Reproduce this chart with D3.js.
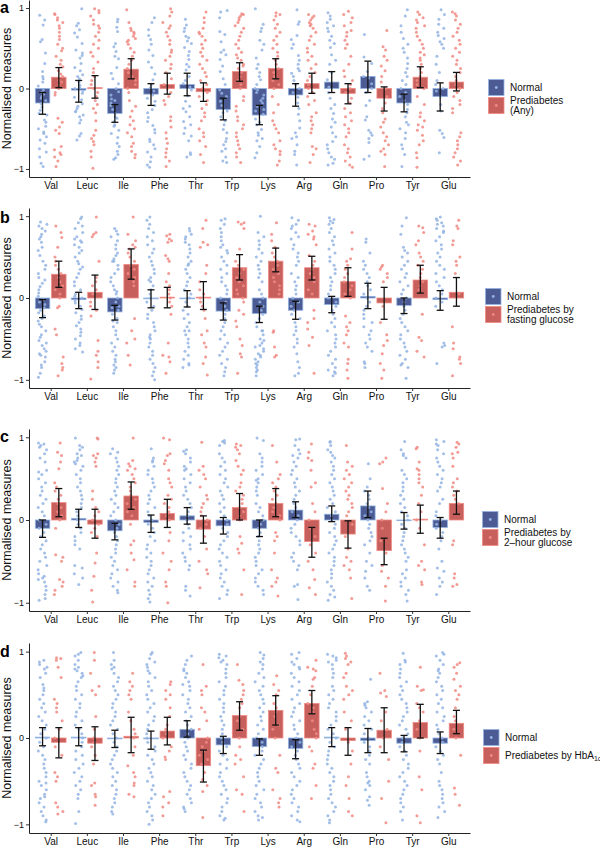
<!DOCTYPE html>
<html><head><meta charset="utf-8">
<script src="https://cdnjs.cloudflare.com/ajax/libs/d3/7.8.5/d3.min.js"></script>
<style>body{margin:0;background:#fff}svg{display:block;font-family:"Liberation Sans",Arial,sans-serif}</style>
</head><body>
<script>
const categories = ["Val","Leuc","Ile","Phe","Thr","Trp","Lys","Arg","Gln","Pro","Tyr","Glu"];
const panelLetters = ["a","b","c","d"];
const yTicks = [-1, 0, 1];
const yTitle = "Normalised measures";
const legendNormal = "Normal";
const legendPred = [["Prediabetes","(Any)"],["Prediabetes by","fasting glucose"],["Prediabetes by","2\u2013hour glucose"],["Prediabetes by HbA"]];

// ---- panel a: Normal vs Prediabetes (Any)
const aNormalMean = [-0.18,-0.02,-0.31,-0.07,0.05,-0.26,-0.33,-0.08,0.08,0.15,-0.18,-0.10];
const aNormalLo   = [-0.32,-0.17,-0.42,-0.21,-0.09,-0.39,-0.45,-0.22,-0.05,-0.05,-0.29,-0.28];
const aNormalHi   = [-0.05,0.10,-0.20,0.06,0.19,-0.12,-0.21,0.06,0.21,0.34,-0.07,0.07];
const aPredMean   = [0.14,0.01,0.24,0.05,-0.04,0.21,0.25,0.06,-0.06,-0.12,0.14,0.08];
const aPredLo     = [0.01,-0.12,0.12,-0.07,-0.16,0.09,0.12,-0.06,-0.19,-0.28,0.01,-0.03];
const aPredHi     = [0.26,0.16,0.37,0.19,0.07,0.32,0.37,0.19,0.06,0.02,0.27,0.20];
// ---- panel b: fasting glucose
const bNormalMean = [-0.13,-0.02,-0.17,-0.01,-0.01,-0.16,-0.19,-0.15,-0.08,0.02,-0.09,-0.02];
const bNormalLo   = [-0.24,-0.13,-0.27,-0.12,-0.11,-0.27,-0.30,-0.26,-0.18,-0.13,-0.19,-0.15];
const bNormalHi   = [-0.02,0.07,-0.09,0.10,0.09,-0.06,-0.10,-0.04,0.02,0.18,0.00,0.09];
const bPredMean   = [0.29,0.07,0.41,0.01,0.01,0.37,0.45,0.37,0.20,-0.06,0.22,0.07];
const bPredLo     = [0.13,-0.14,0.23,-0.12,-0.14,0.22,0.32,0.22,0.02,-0.26,0.06,-0.10];
const bPredHi     = [0.45,0.28,0.60,0.13,0.20,0.53,0.61,0.51,0.37,0.13,0.40,0.25];
// ---- panel c: 2-hour glucose
const cNormalMean = [-0.10,0.02,-0.13,-0.03,0.05,-0.07,-0.10,0.12,0.07,0.17,0.00,-0.09];
const cNormalLo   = [-0.21,-0.09,-0.24,-0.15,-0.05,-0.17,-0.20,0.03,-0.02,0.03,-0.11,-0.22];
const cNormalHi   = [0.00,0.13,-0.04,0.06,0.15,0.03,0.00,0.22,0.17,0.35,0.09,0.03];
const cPredMean   = [0.21,-0.05,0.29,0.08,-0.11,0.15,0.20,-0.26,-0.17,-0.37,0.01,0.20];
const cPredLo     = [0.04,-0.22,0.13,-0.09,-0.28,0.00,0.04,-0.45,-0.34,-0.54,-0.16,0.07];
const cPredHi     = [0.38,0.13,0.46,0.25,0.05,0.32,0.38,-0.09,-0.01,-0.22,0.18,0.35];
// ---- panel d: HbA1c
const dNormalMean = [0.01,0.01,-0.01,-0.01,0.10,-0.08,-0.10,-0.12,0.01,-0.03,-0.06,-0.06];
const dNormalLo   = [-0.09,-0.09,-0.11,-0.13,0.01,-0.18,-0.20,-0.24,-0.10,-0.17,-0.16,-0.18];
const dNormalHi   = [0.12,0.12,0.09,0.08,0.20,0.02,-0.01,-0.02,0.12,0.11,0.03,0.07];
const dPredMean   = [-0.05,-0.06,0.02,0.08,-0.32,0.26,0.32,0.40,-0.03,0.09,0.18,0.17];
const dPredLo     = [-0.23,-0.26,-0.17,-0.08,-0.51,0.09,0.15,0.28,-0.20,-0.17,0.00,0.05];
const dPredHi     = [0.12,0.13,0.24,0.24,-0.14,0.42,0.49,0.55,0.12,0.35,0.39,0.32];

// individual measures (hundredths), one list per amino acid
const aNormalPts = [
[91,85,79,61,58,44,31,21,15,8,3,-2,-7,-10,-15,-19,-23,-27,-33,-39,-42,-47,-50,-54,-60,-64,-68,-75,-79,-85,-93,-97,-12,-5,12,-31,-56],
[99,81,78,73,69,64,56,48,44,38,31,26,22,17,12,8,4,1,-3,-6,-11,-14,-19,-25,-29,-33,-35,-39,-43,-56,-59,-64,-28,0,15,41,-22],
[86,83,76,71,56,52,46,40,37,26,19,12,6,0,-4,-8,-13,-18,-21,-26,-31,-35,-41,-47,-52,-56,-61,-68,-72,-78,-82,-86,-88,-15,-45,-37],
[88,82,73,66,61,55,48,41,33,26,18,11,5,1,-3,-8,-12,-16,-21,-26,-30,-36,-41,-46,-51,-55,-63,-70,-75,-79,-85,-91,-95,-98,-66],
[86,79,75,71,63,59,56,51,46,41,36,30,27,23,15,10,6,2,-2,-9,-16,-22,-29,-35,-41,-45,-49,-56,-59,-80,-82,-85,-25,65,-65],
[97,95,88,71,67,58,48,45,42,36,28,21,12,5,-2,-6,-10,-16,-21,-28,-35,-40,-45,-51,-55,-62,-70,-75,-78,-85,-90,-92,-30,-66],
[99,80,75,71,60,55,48,38,30,25,20,15,11,5,0,-2,-5,-8,-12,-15,-18,-22,-26,-28,-32,-38,-45,-51,-55,-58,-62,-65,-72,-80,-86,-42],
[98,83,80,66,61,55,50,41,35,30,25,19,15,10,5,0,-5,-11,-18,-25,-32,-40,-49,-55,-62,-70,-78,-82,-95,-60,22],
[94,90,86,82,78,75,71,65,60,56,51,42,30,20,11,2,-5,-12,-20,-31,-38,-42,-48,-55,-60,-66,-70,-75,-80,-85,-88,-93,-95,35,-25],
[67,39,31,21,13,6,0,-5,-15,-21,-35,-52,-55,-58,-62,-67,-84,-88,15,-39],
[98,90,78,70,62,55,50,45,38,31,25,20,15,10,5,0,-5,-10,-15,-20,-26,-30,-35,-42,-50,-55,-62,-70,-75,-82,-97,-45],
[98,92,86,80,75,70,66,62,58,55,50,40,30,20,10,0,-10,-20,-28,-52,-56,-61,-80,5,-3]];
const aPredPts = [
[93,92,88,85,82,78,75,70,65,61,55,50,47,40,35,30,27,22,15,10,5,0,-5,-8,-37,-42,-48,-52,-56,-72,-76,-80,-85,-90,-97,-82,18,8],
[99,97,94,90,85,80,78,75,70,65,60,55,50,45,40,33,25,20,15,10,5,0,-5,-10,-15,-20,-25,-30,-40,-52,-58,-62,-66,-70,-78,-85,-99],
[98,82,75,72,70,68,65,62,60,58,55,50,45,40,35,30,25,20,15,10,5,0,-5,-15,-22,-28,-35,-40,-45,-50,-55,-60,-68,-72,-78,-82,-86],
[99,95,90,82,78,75,70,65,60,55,48,45,40,35,30,25,20,12,5,0,-5,-10,-15,-20,-35,-40,-48,-55,-62,-68,-75,-80,-85,-90,-97],
[95,88,82,75,70,68,65,60,55,50,45,40,35,30,25,20,15,10,5,0,-5,-10,-15,-20,-25,-30,-35,-40,-50,-55,-60,-65,-72,-82,-92],
[93,92,90,88,85,82,78,75,70,65,60,55,50,45,42,38,35,30,28,25,20,15,10,5,0,-10,-15,-22,-28,-35,-40,-45,-50,-55,-60,-65,-70,-75,-80,-85,-92],
[94,92,90,85,80,75,70,65,60,55,50,45,40,35,30,25,20,15,10,5,0,-10,-20,-30,-40,-45,-50,-55,-65,-70,-75,-78,-82,-90,-95],
[92,90,88,85,82,80,78,75,70,65,60,55,50,45,40,35,30,25,20,15,10,5,0,-5,-10,-15,-20,-30,-35,-40,-45,-50,-55,-72,-75,-82,-92],
[96,92,88,82,78,72,70,65,60,55,50,40,30,22,15,10,5,0,-5,-12,-18,-25,-30,-35,-40,-45,-50,-55,-60,-70,-75,-80,-85,-90,-95,-98],
[72,52,48,40,35,28,22,15,8,0,-10,-18,-25,-30,-38,-42,-48,-55,-60,-65,-70,-75,-78,-82,-97],
[95,92,88,85,82,78,75,70,65,60,55,50,45,42,38,35,30,25,20,15,10,5,0,-10,-20,-30,-35,-40,-45,-48,-52,-58,-65,-70,-80,-86,-98],
[95,93,90,85,80,75,70,65,60,55,50,45,40,35,30,25,20,15,10,5,0,-5,-10,-15,-20,-25,-30,-55,-60,-65,-70,-75,-80,-85,-90,-95]];

const bNormalPts = [
[93,90,88,85,82,78,75,72,68,62,58,52,45,40,35,30,25,22,18,14,10,6,2,-2,-5,-8,-12,-15,-18,-22,-25,-28,-32,-35,-40,-45,-48,-52,-55,-58,-62,-65,-68,-70,-72,-78,-82,-85,-92,-97],
[99,97,92,88,85,80,75,72,70,68,65,62,58,55,50,45,42,38,35,30,25,20,15,10,5,2,0,-3,-6,-10,-14,-18,-22,-26,-30,-34,-38,-42,-46,-50,-55,-58,-62,-66],
[85,82,78,75,70,65,60,55,52,48,45,40,35,30,25,20,15,10,5,0,-5,-10,-15,-20,-25,-30,-35,-40,-45,-50,-55,-60,-65,-70,-75,-78,-82,-85,-88,-92,8,-12,-28,45],
[99,95,90,85,80,75,70,65,60,55,50,45,40,35,30,25,20,15,10,5,0,-5,-10,-15,-20,-25,-30,-35,-40,-45,-50,-55,-60,-65,-70,-75,-80,-85,-90,-95,-100,-48,22],
[85,82,78,75,72,68,65,60,55,50,45,40,35,30,25,20,15,10,5,0,-5,-10,-15,-20,-25,-30,-35,-40,-45,-50,-55,-60,-65,-70,-75,-80,-82,-85,42,-40],
[97,95,90,85,80,75,70,65,62,58,55,50,45,40,35,30,25,20,15,10,5,0,-5,-10,-15,-20,-25,-30,-35,-40,-45,-50,-55,-60,-65,-70,-75,-80,-85,-90,-95],
[100,80,75,70,65,60,55,50,45,40,35,30,25,20,10,5,0,-5,-10,-15,-20,-25,-30,-35,-40,-45,-50,-52,-55,-58,-60,-62,-65,-68,-70,-72,-75,-78,-80,-82,-85,-88,-90,-95,-40],
[98,95,90,88,85,80,75,72,65,60,55,50,45,40,30,25,20,15,10,5,0,-5,-10,-15,-20,-25,-30,-35,-40,-45,-50,-55,-60,-68,-78,-85,-92,-95],
[98,96,94,92,90,85,80,75,70,65,60,55,50,45,40,35,30,25,20,15,10,5,0,-5,-10,-15,-20,-25,-30,-35,-40,-45,-50,-55,-60,-65,-70,-75,-80,-85,-88,-90,-92,-95],
[72,68,55,45,40,35,30,25,20,15,10,5,0,-5,-10,-15,-20,-25,-30,-35,-40,-45,-50,-55,-60,-65,-78,-80,-85],
[98,88,78,62,58,55,50,45,40,35,30,25,20,15,10,5,0,-5,-10,-15,-20,-25,-30,-35,-40,-45,-50,-55,-60,-65,-70,-75,-80,-82,-85,-98],
[99,97,95,92,90,88,85,82,80,75,70,65,60,55,50,45,40,35,30,25,20,15,10,5,0,-5,-10,-55,-58,-60,-80]];
const bPredPts = [
[88,80,74,62,50,45,40,35,30,25,20,15,10,5,0,-10,-12,-38,-45,-72,-80,-85,-88,-95],
[99,80,78,75,45,25,20,15,10,5,-5,-10,-15,-22,-52,-65,-70,-78,-85,-99],
[99,78,70,65,62,60,55,50,45,40,35,30,25,20,15,-25,-40,-50,-55,-70,-82],
[78,76,72,70,68,52,48,45,30,20,15,10,5,0,-5,-10,-20,-55,-70,-72,-78,-92],
[95,85,68,65,62,40,30,20,10,5,0,-5,-10,-15,-25,-40,-45,-55,-60,-72,-80,-94],
[93,92,90,85,60,45,40,35,30,25,20,15,10,5,0,-5,-15,-20,-28,-35,-50,-58,-68,-72,-92],
[92,78,70,62,55,50,45,40,35,30,25,20,15,10,5,-40,-42,-60,-70,-72],
[90,88,82,78,75,72,65,52,45,40,35,30,25,20,10,5,-15,-25,-30,-38,-48,-58,-92],
[80,60,48,45,40,35,30,25,20,15,10,5,0,-22,-30,-35,-40,-45,-55,-60,-75,-80,-88,-98],
[40,38,35,30,25,20,-10,-30,-45,-52,-58,-68,-80,-88,-98],
[88,86,80,70,65,55,50,45,40,35,30,25,20,15,10,-20,-48,-52,-65,-72],
[95,88,85,70,65,50,45,40,30,5,-35,-55,-62,-72,-75,-80,-95]];

const cNormalPts = [
[93,92,90,88,85,80,75,70,60,58,55,50,45,40,35,30,25,20,15,10,5,0,-5,-10,-15,-20,-25,-30,-35,-40,-45,-50,-55,-60,-65,-68,-70,-72,-75,-80,-85,-90,-97,-95],
[99,90,88,85,80,78,75,72,70,68,65,60,55,50,45,40,35,30,25,20,15,10,5,0,-5,-10,-15,-20,-25,-30,-35,-55,-58,-65,-70,-78],
[86,82,80,75,70,65,60,55,50,45,40,35,30,25,20,15,10,5,0,-5,-10,-15,-20,-25,-30,-35,-40,-45,-50,-55,-60,-65,-70,-75,-80,-85,-88],
[86,75,72,70,65,60,55,50,45,40,35,30,25,20,15,10,5,0,-5,-10,-15,-20,-25,-30,-35,-40,-45,-50,-55,-60,-65,-70,-75,-80,-85,-90,-95,-99],
[85,83,80,75,70,65,62,60,55,50,45,40,35,30,25,20,15,10,5,0,-5,-10,-15,-20,-25,-30,-35,-40,-45,-50,-55,-60,-80,-85,-92],
[96,95,93,90,80,75,70,65,60,55,50,45,40,35,30,25,20,15,10,5,0,-5,-10,-15,-20,-25,-30,-35,-40,-45,-50,-55,-60,-65,-70,-75,-80,-85,-90,-95],
[99,96,80,75,70,65,60,55,50,48,45,40,35,30,20,15,10,5,0,-5,-10,-15,-20,-25,-30,-35,-40,-45,-50,-55,-60,-65,-70,-75,-80,-85,-90],
[98,97,90,85,80,78,75,70,65,60,55,50,45,40,35,30,25,20,15,10,5,0,-5,-10,-15,-20,-25,-30,-40,-45,-50,-55,-60,-78,-80,-96],
[95,94,90,85,82,78,75,70,65,60,55,50,45,40,35,30,25,20,15,10,5,0,-5,-10,-15,-20,-25,-30,-35,-40,-45,-50,-55,-60,-65,-70,-75,-80,-85,-90,-93,-97],
[68,50,40,35,30,25,20,15,10,5,0,-5,-10,-15,-20,-25,-30,-40,-50,-55,-62,-70,-80,-85],
[95,85,80,78,75,60,55,50,45,40,35,30,25,20,15,10,5,0,-5,-10,-15,-20,-25,-30,-35,-40,-45,-50,-60,-65,-70,-75,-80,-85,-90,-98],
[97,95,92,90,85,80,75,70,65,60,55,50,45,40,35,25,20,10,5,0,-5,-10,-15,-20,-25,-35,-50,-58,-62,-70,-75,-80,-90]];
const cPredPts = [
[93,82,78,70,62,45,40,35,30,25,20,15,10,5,0,-10,-42,-45,-50,-72,-75,-80,-85,-90],
[99,98,80,78,75,70,65,35,25,15,10,5,0,-5,-10,-15,-20,-40,-52,-68,-85,-99],
[99,72,68,65,62,60,55,50,45,40,35,30,25,20,15,10,5,-5,-25,-30,-40,-48,-60,-75,-80],
[99,97,80,78,72,68,60,50,45,40,30,25,20,15,10,5,0,-15,-25,-40,-50,-60,-75,-80,-100],
[94,65,60,55,50,40,30,25,20,15,10,5,0,-5,-10,-20,-35,-50,-60,-65,-82],
[92,90,88,85,80,72,65,60,55,45,40,35,30,25,20,15,10,5,0,-20,-28,-35,-40,-60,-90],
[90,70,55,50,45,40,35,30,25,20,15,10,5,0,-15,-20,-25,-40,-60,-70,-75,-80,-92],
[92,82,75,72,60,45,40,20,10,0,-10,-20,-30,-40,-50,-60,-72,-82,-90],
[90,70,65,60,55,50,45,40,35,30,25,20,15,10,5,-5,-20,-35,-45,-50,-55,-60,-70,-95],
[75,70,68,38,20,10,0,-10,-25,-40,-55,-62,-70,-80,-98],
[88,86,70,62,60,55,50,45,40,30,20,10,0,-10,-30,-50,-55,-60,-75,-78],
[94,92,88,82,80,75,65,50,45,40,35,30,25,20,-25,-30,-65,-70,-78,-80]];

const dNormalPts = [
[90,88,85,82,80,75,70,62,58,55,50,45,40,35,30,25,20,15,10,5,0,-5,-10,-15,-20,-25,-30,-35,-40,-45,-50,-55,-60,-65,-70,-75,-80,-85,-90,-95,-97,-52,-68],
[99,97,95,90,85,82,80,78,75,72,70,65,60,55,50,45,40,35,30,25,20,15,10,5,0,-5,-10,-15,-20,-25,-30,-35,-40,-45,-50,-55,-60,-65,-70,-85,-99],
[99,90,85,82,80,75,70,65,60,55,50,45,40,35,30,25,20,15,10,5,0,-5,-10,-15,-20,-25,-30,-35,-40,-45,-50,-55,-60,-65,-70,-75,-80,-85,-88],
[99,97,92,88,85,82,78,75,70,65,60,55,50,45,40,35,30,25,20,15,10,5,0,-5,-10,-15,-20,-25,-30,-35,-40,-45,-50,-55,-60,-65,-70,-75,-80,-85,-90,-95,-100],
[95,90,85,80,78,75,70,65,62,60,55,50,45,40,35,30,25,20,15,10,5,0,-5,-10,-15,-20,-25,-30,-35,-40,-45,-50,-55,-60,-65,-70,-75,-80,-82,-85],
[97,95,93,90,88,85,80,75,70,65,60,55,50,45,40,35,30,25,20,15,10,5,0,-5,-10,-15,-20,-25,-30,-35,-40,-45,-50,-55,-60,-65,-70,-75,-80,-85,-90,-93,-95],
[99,96,92,88,85,80,75,70,65,60,55,50,45,40,35,30,25,20,15,10,5,0,-5,-10,-15,-20,-25,-30,-35,-40,-45,-50,-55,-60,-65,-70,-75,-80,-85,-90,-92,-95],
[99,97,92,88,85,82,80,75,70,65,60,55,50,45,40,35,30,25,20,15,10,5,0,-5,-10,-15,-20,-25,-30,-35,-40,-45,-50,-55,-60,-65,-70,-75,-80,-85,-90,-95,-97],
[97,95,93,90,88,85,80,75,70,60,55,50,45,40,35,30,25,20,15,10,5,0,-5,-10,-15,-20,-25,-30,-35,-40,-45,-50,-55,-60,-65,-70,-75,-80,-85,-90,-95,-98],
[68,42,40,38,35,30,25,20,15,10,5,0,-5,-10,-15,-20,-25,-30,-40,-45,-50,-52,-55,-60,-68,-72,-78],
[98,90,88,85,80,75,70,65,60,55,50,45,40,35,30,25,20,15,10,5,0,-5,-10,-15,-20,-25,-30,-35,-40,-45,-50,-55,-60,-65,-70,-75,-80,-85,-95],
[99,97,95,90,85,80,78,75,70,65,60,55,50,45,40,35,30,25,20,15,10,5,0,-5,-10,-15,-20,-25,-30,-40,-50,-55,-60,-65,-70,-75,-80,-85,-92]];
const dPredPts = [
[93,92,90,82,70,45,40,35,30,20,10,0,-10,-20,-40,-45,-50,-75,-80,-85,-88],
[99,90,75,60,55,50,25,10,0,-5,-10,-20,-30,-52,-55,-65,-68,-78],
[75,65,60,55,50,45,30,20,10,5,0,-10,-20,-32,-40,-45,-52,-55,-65,-68],
[65,62,55,50,45,35,25,15,10,5,0,-10,-15,-22,-25,-62,-68,-75,-80,-90],
[85,60,55,50,35,30,20,10,0,-5,-10,-15,-20,-25,-30,-40,-48,-55,-62,-92],
[85,67,62,55,50,45,40,35,25,20,10,0,-10,-20,-25,-30,-45,-60,-65,-85],
[72,62,55,50,40,35,30,25,15,10,0,-20,-35,-40,-60,-70,-75,-80],
[90,82,80,78,70,68,60,50,40,35,30,20,10,5,0,-10,-15,-30,-35,-55,-70],
[98,95,92,88,85,75,70,60,55,50,45,30,20,10,-5,-15,-30,-45,-55,-70,-85,-90],
[75,55,52,48,30,20,10,0,-10,-25,-50,-70,-98],
[82,60,56,55,40,35,30,20,10,0,-15,-45,-60,-90,-98],
[87,85,82,75,68,60,55,50,45,35,25,20,10,0,-20,-58,-65,-78]];

// ---------- build panels from the arrays ----------
const panelsData = [
  {normal:[aNormalMean,aNormalLo,aNormalHi,aNormalPts], pred:[aPredMean,aPredLo,aPredHi,aPredPts]},
  {normal:[bNormalMean,bNormalLo,bNormalHi,bNormalPts], pred:[bPredMean,bPredLo,bPredHi,bPredPts]},
  {normal:[cNormalMean,cNormalLo,cNormalHi,cNormalPts], pred:[cPredMean,cPredLo,cPredHi,cPredPts]},
  {normal:[dNormalMean,dNormalLo,dNormalHi,dNormalPts], pred:[dPredMean,dPredLo,dPredHi,dPredPts]}
];
// layout
const layout = [
  {top:0,   bottom:177, letterY:13,  legX:488, legY:79, keyH:17},
  {top:208, bottom:388, letterY:223, legX:485, legY:288, keyH:17},
  {top:429, bottom:611, letterY:442, legX:482, legY:511, keyH:17},
  {top:643, bottom:833, letterY:657, legX:483, legY:729, keyH:17}
];
const colNormal = "#3D4D8A", colNormalLight = "#93B4E3";
const colPred = "#C2514F", colPredLight = "#F08A82";

const svg = d3.select("body").append("svg").attr("width",600).attr("height",848);
function jit(i,k){ const s=Math.sin(i*12.9898+k*78.233)*43758.5453; return s-Math.floor(s)-0.5; }

panelsData.forEach((pd, pi) => {
  const L = layout[pi];
  const x = d3.scalePoint().domain(categories).range([29,470]).padding(0.6);
  const y = d3.scaleLinear().domain([-1.1,1.1]).range([L.bottom, L.top]);
  const step = x.step(), dodge = 0.225*step, bw = 0.4*step;
  const g = svg.append("g");
  const groups = [
    {d:pd.normal, off:-dodge, dark:colNormal, light:colNormalLight, k:1},
    {d:pd.pred,   off: dodge, dark:colPred,   light:colPredLight,   k:2}
  ];
  // bars
  groups.forEach(gr => {
    g.append("g").selectAll("rect").data(categories).join("rect")
      .attr("x", (c)=> x(c)+gr.off-bw/2).attr("width", bw)
      .attr("y", (c,i)=> y(Math.max(0,gr.d[0][i])))
      .attr("height", (c,i)=> Math.max(0.6, Math.abs(y(gr.d[0][i])-y(0))))
      .attr("fill", gr.dark).attr("fill-opacity",0.92)
      .attr("stroke", gr.light).attr("stroke-width",0.8);
  });
  // points
  groups.forEach(gr => {
    const pts = [];
    categories.forEach((c,i) => gr.d[3][i].forEach((v,j) => pts.push({c, v:v/100, j, i})));
    g.append("g").selectAll("circle").data(pts).join("circle")
      .attr("cx", p => x(p.c)+gr.off + jit(p.j+p.i*97+pi*1000, gr.k)*9)
      .attr("cy", p => y(p.v)).attr("r",1.5)
      .attr("fill", gr.light).attr("fill-opacity",0.85);
  });
  // error bars
  groups.forEach(gr => {
    const eg = g.append("g").attr("stroke","#111").attr("stroke-width",1.3);
    categories.forEach((c,i) => {
      const cx = x(c)+gr.off, lo=y(gr.d[1][i]), hi=y(gr.d[2][i]);
      eg.append("line").attr("x1",cx).attr("x2",cx).attr("y1",lo).attr("y2",hi);
      eg.append("line").attr("x1",cx-3.5).attr("x2",cx+3.5).attr("y1",lo).attr("y2",lo);
      eg.append("line").attr("x1",cx-3.5).attr("x2",cx+3.5).attr("y1",hi).attr("y2",hi);
    });
  });
  // axes
  const ya = g.append("g").attr("transform","translate(29,0)")
    .call(d3.axisLeft(y).tickValues(yTicks).tickSize(3).tickSizeOuter(0).tickFormat(d3.format("d")));
  const xa = g.append("g").attr("transform",`translate(0,${L.bottom})`)
    .call(d3.axisBottom(x).tickSize(3).tickSizeOuter(0));
  [ya,xa].forEach(a => { a.select(".domain").attr("stroke","#222").attr("stroke-width",1);
    a.selectAll(".tick line").attr("stroke","#333");
    a.selectAll("text").attr("fill","#111").style("font-family","'Liberation Sans',Arial,sans-serif"); });
  ya.selectAll("text").attr("font-size",9).attr("x",-5);
  xa.selectAll("text").attr("font-size",10).attr("y",5);
  // y title
  g.append("text").attr("transform",`translate(11,${y(0)}) rotate(-90)`)
    .attr("text-anchor","middle").attr("font-size",12.5).attr("fill","#111").text(yTitle);
  // panel letter
  g.append("text").attr("x",0).attr("y",L.letterY).attr("font-size",16).attr("font-weight","bold")
    .attr("fill","#000").text(panelLetters[pi]);
  // legend
  const lg = g.append("g").attr("transform",`translate(${L.legX},${L.legY})`);
  const keys = [{dark:colNormal, light:colNormalLight, lab:[legendNormal]},
                {dark:colPred, light:colPredLight, lab:legendPred[pi]}];
  keys.forEach((kk,ki) => {
    const ky = ki*(L.keyH+1);
    lg.append("rect").attr("x",0.5).attr("y",ky+0.5).attr("width",15.5).attr("height",L.keyH-1)
      .attr("fill",kk.dark).attr("fill-opacity",0.92).attr("stroke",kk.light).attr("stroke-width",0.8);
    lg.append("circle").attr("cx",8.25).attr("cy",ky+L.keyH/2).attr("r",1.4).attr("fill",kk.light);
    const t = lg.append("text").attr("x",22).attr("font-size",10).attr("fill","#111");
    const n = kk.lab.length;
    kk.lab.forEach((s,li) => {
      t.append("tspan").attr("x",22).attr("y", ky + L.keyH/2 + 3.5 + (li-(n-1)/2)*10.5).text(s);
    });
    if (pi===3 && ki===1) {
      t.append("tspan").attr("font-size",7).attr("dy",2).text("1c");
    }
  });
});
</script>
</body></html>
